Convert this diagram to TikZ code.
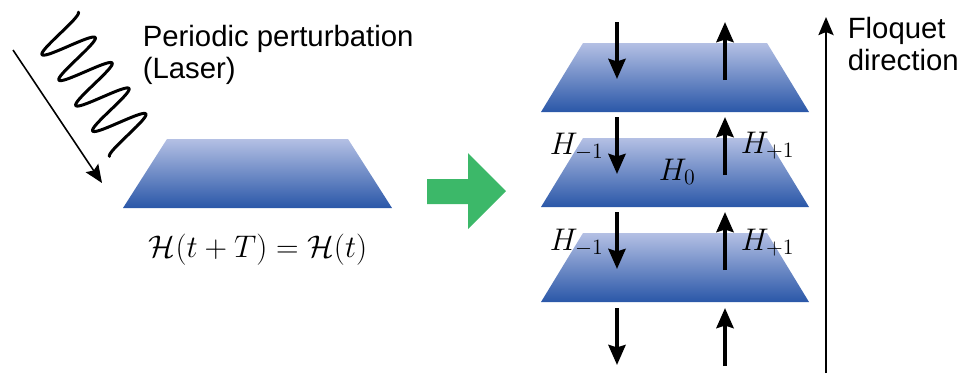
\RequirePackage{fix-cm}
\documentclass[tikz,border=0pt]{standalone}
\usepackage{fontspec}
\setsansfont{Liberation Sans}
\usetikzlibrary{arrows.meta}
\definecolor{ink}{HTML}{000000}
\definecolor{pale}{HTML}{B4C0E4}
\definecolor{deep}{HTML}{2A57A8}
\definecolor{go}{HTML}{3CB869}

\begin{document}
\begin{tikzpicture}[x=.02cm,y=-.02cm,line width=.9pt,every node/.style={inner sep=0pt,text=ink},
 sheet/.style={top color=pale,bottom color=deep,draw=none},
 hop/.style={-{Stealth[length=.4cm,width=.34cm,inset=.05cm]},line width=2.3pt},
 txt/.style={font=\sffamily\fontsize{16.7}{18.3}\selectfont,align=left,anchor=north west},
 sym/.style={font=\fontsize{17.8}{21}\selectfont,anchor=base west}]
\path[use as bounding box] (0,0) rectangle (960,373);

% laser hitting the sample
\draw[line width=1.7pt,line join=round,line cap=round] plot[domain=0:138,samples=180,smooth] ({56+.55*\x+22.4*cos(\x*11.738)},{27+.83*\x-14.9*cos(\x*11.738)});
\coordinate (beam) at (13,50);
\coordinate (hit) at (102,183);
\draw[-{Stealth[length=.36cm,width=.3cm,inset=.06cm]}] (beam) -- (hit);
\node[txt] (pert) at (142,24) {Periodic perturbation\\(Laser)};

\shade[sheet] (167,139) -- (348,139) -- (392,208) -- (123,208) -- cycle;
\node[sym,anchor=base] (eq) at (258,257) {$\mathcal{H}(t+T)=\mathcal{H}(t)$};

\fill[go] (427,179) -- (468,179) -- (468,153) -- (506,191) -- (468,229) -- (468,204) -- (427,204) -- cycle;

% Floquet ladder
\foreach \t in {43,138,233}
  \shade[sheet] (583,\t) -- (767,\t) -- (809,\t+69) -- (541,\t+69) -- cycle;
\foreach \a in {22,117,212,308} {
  \draw[hop] (617,\a) -- (617,\a+57);
  \draw[hop] (725,\a+58) -- (725,\a);
}
\node[sym] (hm1) at (549,154) {$H_{-1}$};
\node[sym] (hp1) at (740,153) {$H_{+1}$};
\node[sym] (h0) at (658,180) {$H_0$};
\node[sym] (hm1b) at (549,250) {$H_{-1}$};
\node[sym] (hp1b) at (740,250) {$H_{+1}$};

\coordinate (floor) at (826,373);
\coordinate (roof) at (826,17);
\draw[-{Stealth[length=.36cm,width=.3cm,inset=.06cm]},line width=1.5pt] (floor) -- (roof);
\node[txt] (floq) at (847,16) {Floquet\\direction};

\end{tikzpicture}
\end{document}
